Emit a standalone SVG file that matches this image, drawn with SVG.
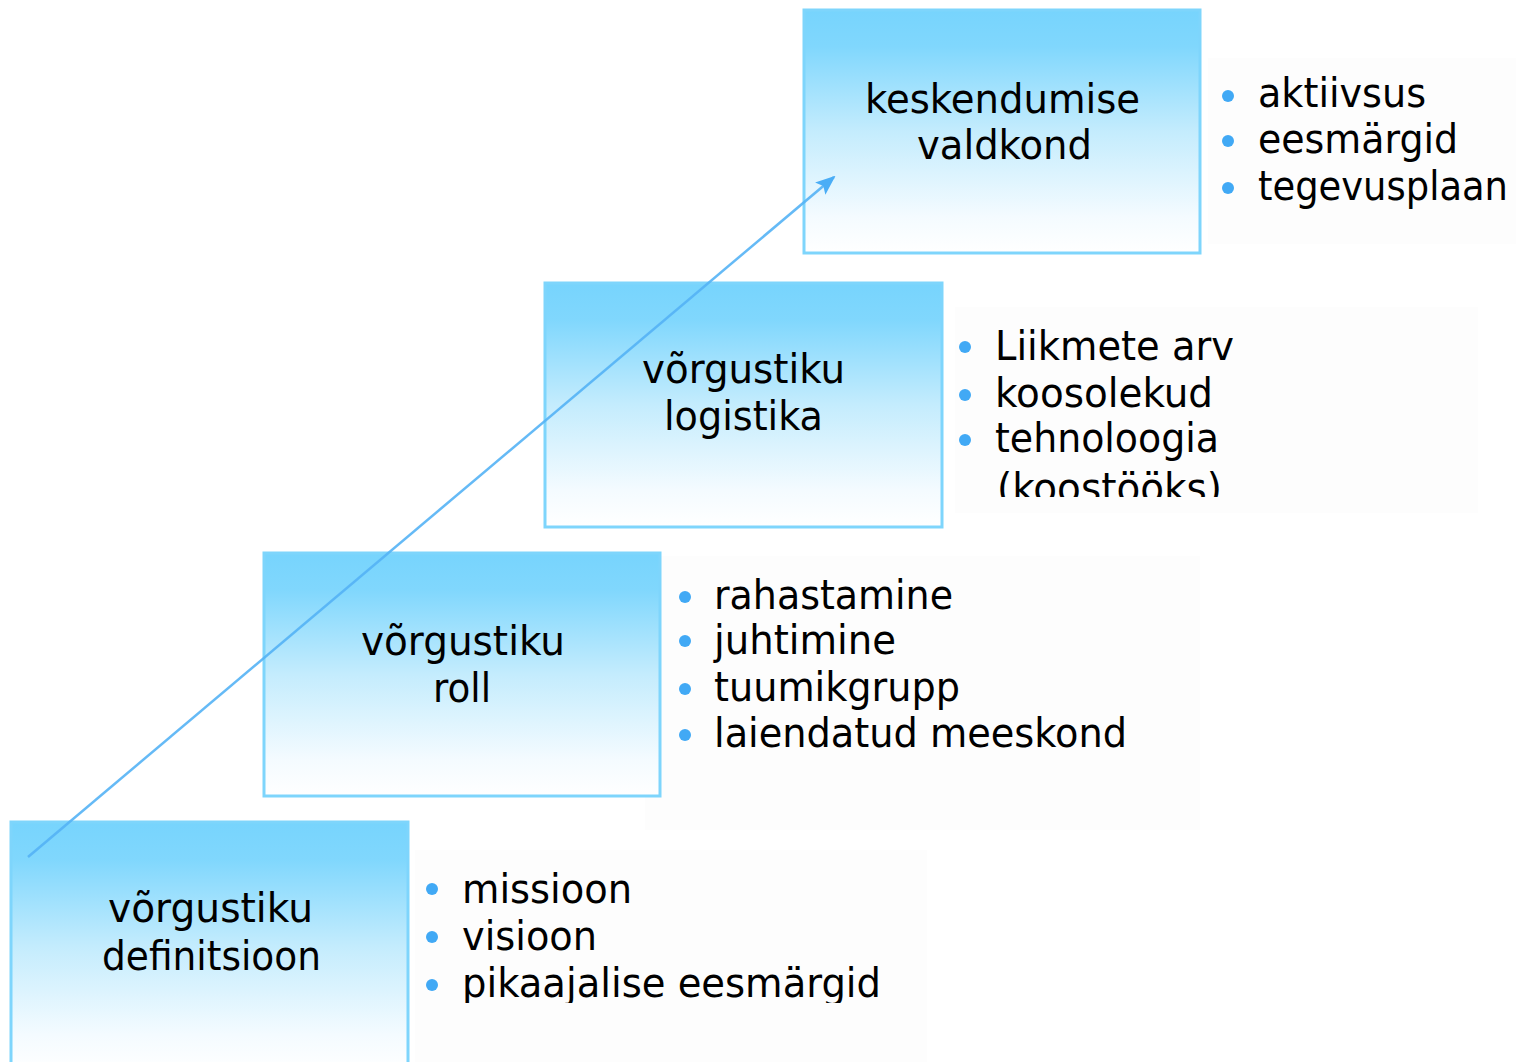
<svg xmlns="http://www.w3.org/2000/svg" width="1516" height="1062" viewBox="0 0 1516 1062">
<defs>
<linearGradient id="boxg" x1="0" y1="0" x2="0" y2="1">
<stop offset="0" stop-color="#77d4fd"/>
<stop offset="0.15" stop-color="#80d7fd"/>
<stop offset="0.5" stop-color="#c4ecfd"/>
<stop offset="0.85" stop-color="#f4fbff"/>
<stop offset="1" stop-color="#ffffff"/>
</linearGradient>
<marker id="ah" viewBox="0 0 10 10" refX="9" refY="5" markerWidth="8" markerHeight="8" orient="auto" markerUnits="strokeWidth">
<path d="M0,1 L10,5 L0,9 L2,5 Z" fill="#3aa6f6"/>
</marker>
<clipPath id="clip3"><rect x="950" y="300" width="530" height="197"/></clipPath>
<clipPath id="clip1"><rect x="410" y="840" width="520" height="163"/></clipPath>
</defs>
<style>
.box{fill:url(#boxg);stroke:#7ed5fc;stroke-width:3}
.bg{fill:#fdfdfd}
.t{font-family:"DejaVu Sans","Liberation Sans",sans-serif;font-size:40px;fill:#000}
.b{fill:#41a9f5}
.conn{stroke:#55b3f6;stroke-width:2.5;fill:none;opacity:0.9}
</style>
<rect width="1516" height="1062" fill="#ffffff"/>

<g id="bg-text">
<rect class="bg" x="1208" y="58" width="308" height="186"/>
<rect class="bg" x="955" y="307" width="523" height="206"/>
<rect class="bg" x="645" y="556" width="555" height="274"/>
<rect class="bg" x="415" y="850" width="512" height="212"/>
</g>

<g id="node-definitsioon">
<rect class="box" x="11" y="822" width="397" height="250"/>
</g>
<g id="node-roll">
<rect class="box" x="264" y="553" width="396" height="243"/>
</g>
<g id="node-logistika">
<rect class="box" x="545" y="283" width="397" height="244"/>
</g>
<g id="node-valdkond">
<rect class="box" x="804" y="10" width="396" height="243"/>
</g>

<g id="connectors">
<line class="conn" x1="28" y1="857" x2="834" y2="177" marker-end="url(#ah)"/>
</g>

<g id="labels">
<text class="t" x="865" y="113" textLength="275" lengthAdjust="spacingAndGlyphs">keskendumise</text>
<text class="t" x="917" y="159" textLength="175" lengthAdjust="spacingAndGlyphs">valdkond</text>
<text class="t" x="642" y="383" textLength="203" lengthAdjust="spacingAndGlyphs">võrgustiku</text>
<text class="t" x="664" y="430" textLength="159" lengthAdjust="spacingAndGlyphs">logistika</text>
<text class="t" x="361" y="655" textLength="204" lengthAdjust="spacingAndGlyphs">võrgustiku</text>
<text class="t" x="433" y="702" textLength="58" lengthAdjust="spacingAndGlyphs">roll</text>
<text class="t" x="108" y="922" textLength="205" lengthAdjust="spacingAndGlyphs">võrgustiku</text>
<text class="t" x="102" y="970" textLength="219" lengthAdjust="spacingAndGlyphs">definitsioon</text>
</g>

<g id="list-valdkond">
<circle class="b" cx="1228" cy="96" r="6"/>
<circle class="b" cx="1228" cy="141" r="6"/>
<circle class="b" cx="1228" cy="188" r="6"/>
<text class="t" x="1258" y="107" textLength="168" lengthAdjust="spacingAndGlyphs">aktiivsus</text>
<text class="t" x="1258" y="153" textLength="200" lengthAdjust="spacingAndGlyphs">eesmärgid</text>
<text class="t" x="1258" y="200" textLength="250" lengthAdjust="spacingAndGlyphs">tegevusplaan</text>
</g>

<g id="list-logistika">
<circle class="b" cx="965" cy="347" r="6"/>
<circle class="b" cx="965" cy="395" r="6"/>
<circle class="b" cx="965" cy="440" r="6"/>
<text class="t" x="995" y="360" textLength="239" lengthAdjust="spacingAndGlyphs">Liikmete arv</text>
<text class="t" x="995" y="407" textLength="218" lengthAdjust="spacingAndGlyphs">koosolekud</text>
<text class="t" x="995" y="452" textLength="224" lengthAdjust="spacingAndGlyphs">tehnoloogia</text>
<text class="t" x="997" y="502" textLength="225" lengthAdjust="spacingAndGlyphs" clip-path="url(#clip3)">(koostööks)</text>
</g>

<g id="list-roll">
<circle class="b" cx="685" cy="597" r="6"/>
<circle class="b" cx="685" cy="641" r="6"/>
<circle class="b" cx="685" cy="689" r="6"/>
<circle class="b" cx="685" cy="735" r="6"/>
<text class="t" x="714" y="609" textLength="239" lengthAdjust="spacingAndGlyphs">rahastamine</text>
<text class="t" x="714" y="654" textLength="182" lengthAdjust="spacingAndGlyphs">juhtimine</text>
<text class="t" x="714" y="701" textLength="246" lengthAdjust="spacingAndGlyphs">tuumikgrupp</text>
<text class="t" x="714" y="747" textLength="413" lengthAdjust="spacingAndGlyphs">laiendatud meeskond</text>
</g>

<g id="list-definitsioon">
<circle class="b" cx="432" cy="889" r="6"/>
<circle class="b" cx="432" cy="937" r="6"/>
<circle class="b" cx="432" cy="985" r="6"/>
<text class="t" x="462" y="903" textLength="170" lengthAdjust="spacingAndGlyphs">missioon</text>
<text class="t" x="462" y="950" textLength="135" lengthAdjust="spacingAndGlyphs">visioon</text>
<text class="t" x="462" y="997" textLength="419" lengthAdjust="spacingAndGlyphs" clip-path="url(#clip1)">pikaajalise eesmärgid</text>
</g>
</svg>
